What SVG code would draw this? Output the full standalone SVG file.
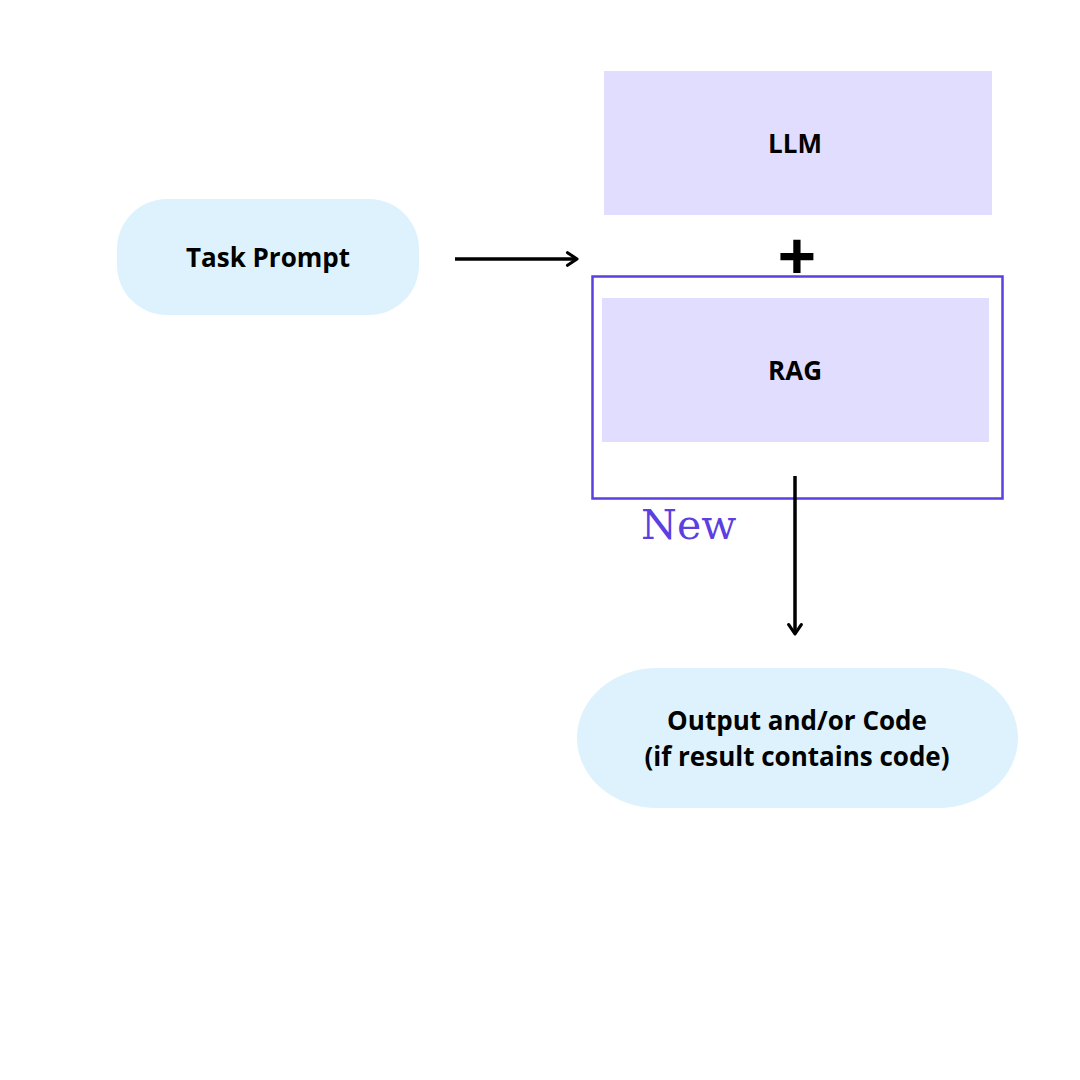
<svg xmlns="http://www.w3.org/2000/svg" width="1080" height="1080" viewBox="0 0 1080 1080">
<defs>
<style>
.lbl{font-family:"Open Sans","Noto Sans",sans-serif;font-weight:700;font-size:26px;fill:#000;text-anchor:middle}
.pill{fill:#DDF2FD}
.box{fill:#E0DDFE}
.conn{stroke:#000;stroke-width:3.5;fill:none}
</style>
<marker id="arr" viewBox="0 0 10 10" refX="8" refY="5" markerWidth="4.5" markerHeight="4.5" orient="auto" markerUnits="strokeWidth">
<path d="M2,1 L8,5 L2,9" fill="none" stroke="#000" stroke-width="2" stroke-linecap="round" stroke-linejoin="round"/>
</marker>
</defs>
<rect width="1080" height="1080" fill="#fff"/>
<g id="task-prompt">
<rect class="pill" x="117" y="199" width="302" height="116" rx="50" ry="50"/>
<text class="lbl" x="268" y="267">Task Prompt</text>
</g>
<g id="llm">
<rect class="box" x="604" y="71" width="388" height="144"/>
<text class="lbl" x="795" y="153">LLM</text>
</g>
<g id="plus">
<text x="797" y="281" style="font-family:'Open Sans','Noto Sans',sans-serif;font-weight:700;font-size:68px;fill:#000;text-anchor:middle">+</text>
</g>
<g id="new-group">
<rect x="592.5" y="276.5" width="410" height="222" fill="none" stroke="#5B3FE0" stroke-width="2.5"/>
<text x="641" y="539" style="font-family:'DejaVu Serif',serif;font-size:41px;fill:#5B3FE0">New</text>
</g>
<g id="rag">
<rect class="box" x="602" y="298" width="387" height="144"/>
<text class="lbl" x="795" y="380">RAG</text>
</g>
<g id="output">
<rect class="pill" x="577" y="668" width="441" height="140" rx="80" ry="70"/>
<text class="lbl" x="797" y="730">Output and/or Code</text>
<text class="lbl" x="797" y="766">(if result contains code)</text>
</g>
<g id="connectors">
<line class="conn" x1="455" y1="259" x2="577" y2="259" marker-end="url(#arr)"/>
<line class="conn" x1="795" y1="476" x2="795" y2="634" marker-end="url(#arr)"/>
</g>
</svg>
